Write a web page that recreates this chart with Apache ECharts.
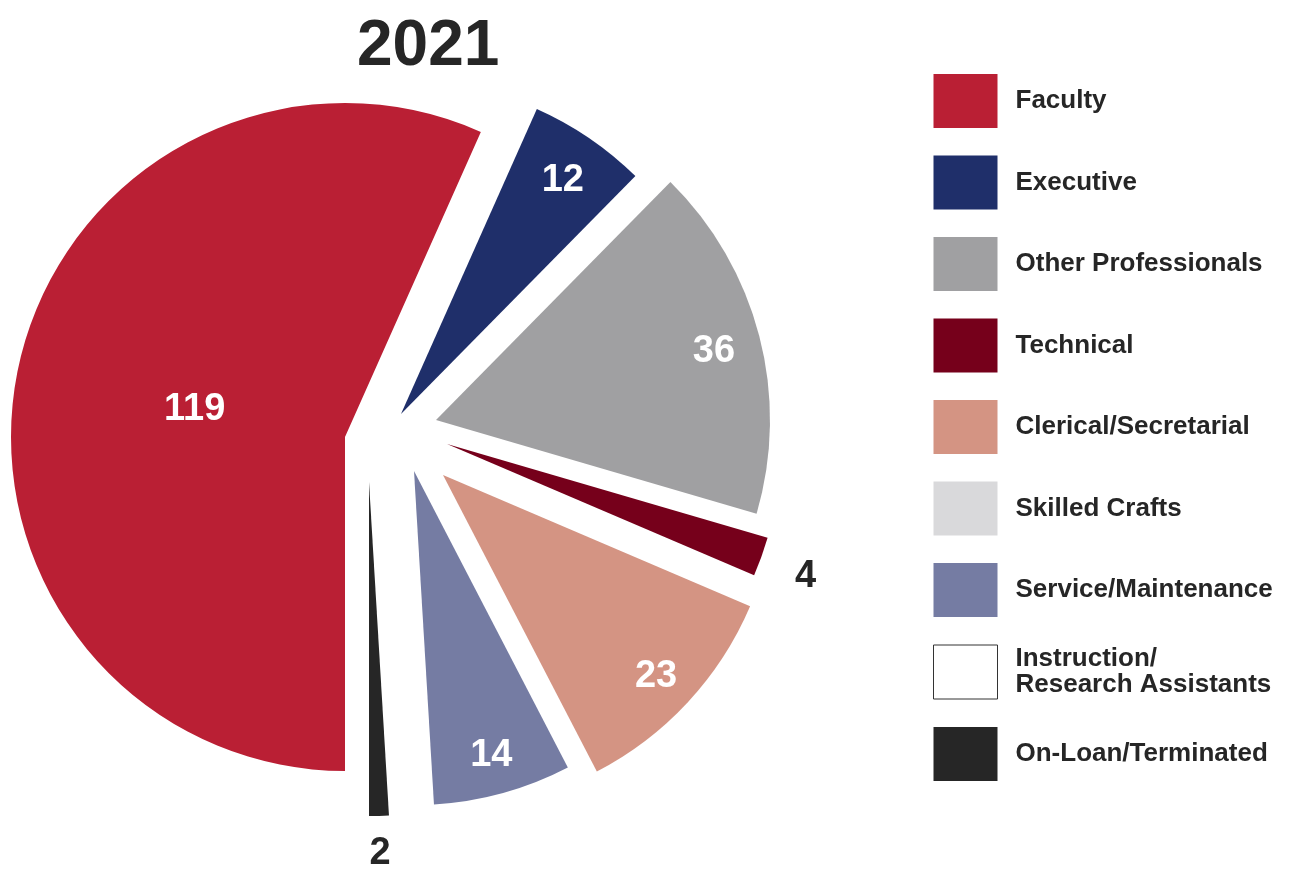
<!DOCTYPE html>
<html>
<head>
<meta charset="utf-8">
<title>2021</title>
<script src="https://cdn.jsdelivr.net/npm/echarts@6/dist/echarts.min.js"></script>
<style>
  html, body { margin: 0; padding: 0; background: #fff; }
  #chart { width: 1295px; height: 869px; }
</style>
</head>
<body>
<div id="chart"></div>
<script>
const titleText = '2021'
const categories = [
  'Faculty',
  'Executive',
  'Other Professionals',
  'Technical',
  'Clerical/Secretarial',
  'Skilled Crafts',
  'Service/Maintenance',
  'Instruction/\nResearch Assistants',
  'On-Loan/Terminated',
]
const values = [119, 12, 36, 4, 23, 0, 14, 0, 2]
const colors = ['#ba1f34', '#1f2f6a', '#a0a0a2', '#76001b', '#d49483', '#d9d9db', '#757ca3', '#ffffff', '#262626']

// the slices are pulled apart by hand in the original, so each one gets its own pie centre (its tip)
const sliceCenters = [[345, 437], [401, 414], [436, 420], [447, 444], [443, 475], null, [414, 471], null, [369, 482]]
// how far out the number sits, as a share of the radius (>1 means outside, dark text)
const labelRatio = [0.46, 0.86, 0.86, 1.14, 0.87, 0, 0.87, 0, 1.1]
const radius = 334
const ink = '#262626'
const font = '"Liberation Sans", Arial, sans-serif'

const total = values.reduce((a, b) => a + b, 0)

// same angle math the pie uses: start at 6 o'clock, go clockwise
function midAngle(idx) {
  let before = 0
  for (let i = 0; i < idx; i++) before += values[i]
  return Math.PI / 2 + ((before + values[idx] / 2) / total) * Math.PI * 2
}

const series = []
values.forEach((v, idx) => {
  if (!v) return
  const [cx, cy] = sliceCenters[idx]
  const outside = labelRatio[idx] > 1
  series.push({
    type: 'pie',
    center: [cx, cy],
    radius: [0, radius],
    startAngle: 270,
    clockwise: true,
    silent: true,
    avoidLabelOverlap: false,
    emphasis: { disabled: true },
    label: { show: false },
    labelLine: { show: false },
    data: categories.map((name, i) => ({
      name,
      value: values[i],
      itemStyle: { color: i === idx ? colors[i] : 'rgba(0,0,0,0)', borderWidth: 0 },
      label: i === idx
        ? {
            show: true,
            position: 'inside',
            formatter: '{c}',
            color: outside ? ink : '#ffffff',
            fontSize: 38,
            fontWeight: 'bold',
            fontFamily: font,
          }
        : { show: false },
    })),
    labelLayout: (p) => {
      if (p.dataIndex !== idx) return {}
      const a = midAngle(idx)
      const d = radius * labelRatio[idx]
      return { x: cx + d * Math.cos(a), y: cy + d * Math.sin(a) + 4, align: 'center', verticalAlign: 'middle' }
    },
  })
})

const chart = echarts.init(document.getElementById('chart'), null, { renderer: 'canvas' })
chart.setOption({
  animation: false,
  backgroundColor: '#ffffff',
  title: {
    text: titleText,
    left: 357,
    top: 15,
    padding: 0,
    textStyle: { fontSize: 64, fontWeight: 'bold', color: ink, fontFamily: font },
  },
  legend: {
    orient: 'vertical',
    left: 933,
    top: 74,
    padding: 0,
    itemWidth: 64,
    itemHeight: 54,
    itemGap: 27.5,
    icon: 'rect',
    selectedMode: false,
    data: categories.map((name, i) => ({
      name,
      itemStyle: {
        color: colors[i],
        borderColor: i === 7 ? '#333333' : colors[i],
        borderWidth: i === 7 ? 1 : 0,
      },
    })),
    textStyle: {
      color: ink,
      fontSize: 26,
      fontWeight: 'bold',
      fontFamily: font,
      lineHeight: 26,
      padding: [0, 0, 0, 13],
    },
  },
  series,
})
</script>
</body>
</html>
